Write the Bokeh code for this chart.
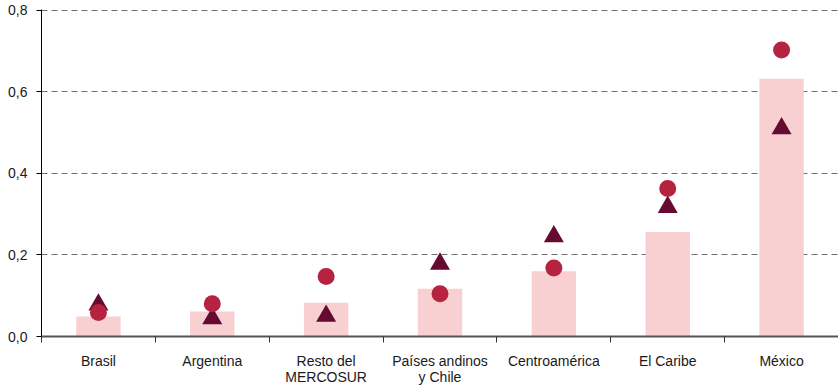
from bokeh.plotting import figure
from bokeh.models import FixedTicker, Range1d, ColumnDataSource
from bokeh.embed import file_html
from bokeh.resources import INLINE

categories = ["Brasil", "Argentina", "Resto del\nMERCOSUR", "Países andinos\ny Chile",
              "Centroamérica", "El Caribe", "México"]
bar_values = [0.049, 0.061, 0.083, 0.117, 0.160, 0.256, 0.632]
circle_values = [0.059, 0.080, 0.147, 0.105, 0.168, 0.363, 0.702]
triangle_values = [0.078, 0.044, 0.050, 0.178, 0.245, 0.317, 0.510]
y_ticks = [0.0, 0.2, 0.4, 0.6, 0.8]
y_tick_labels = ["0,0", "0,2", "0,4", "0,6", "0,8"]

xs = [i + 0.5 for i in range(len(categories))]
src = ColumnDataSource(dict(x=xs, bar=bar_values, c=circle_values, t=triangle_values))

p = figure(width=838, height=387, output_backend="svg", toolbar_location=None,
           x_range=Range1d(0, len(categories)), y_range=Range1d(0, 0.8015),
           min_border_left=41, min_border_right=0, min_border_top=9, min_border_bottom=49)
p.outline_line_color = None
p.background_fill_color = "white"

p.vbar(x="x", top="bar", bottom=0, width=0.39, source=src, fill_color="#F9D0D2", line_color=None)
p.scatter(x="x", y="t", source=src, marker="triangle", size=20, fill_color="#650A30", line_color=None)
p.scatter(x="x", y="c", source=src, marker="circle", size=17, fill_color="#B52341", line_color=None)

FONT = "Liberation Sans"
# x axis
p.xaxis.ticker = FixedTicker(ticks=xs, minor_ticks=list(range(len(categories) + 1)))
p.xaxis.major_label_overrides = {x: c for x, c in zip(xs, categories)}
p.xaxis.major_tick_line_color = None
p.xaxis.minor_tick_in = 0
p.xaxis.minor_tick_out = 6
p.xaxis.minor_tick_line_color = "#333333"
p.xaxis.axis_line_color = "#555555"
p.xaxis.axis_line_width = 2
p.xaxis.major_label_text_font = FONT
p.xaxis.major_label_text_font_size = "14px"
p.xaxis.major_label_text_color = "#1a1a1a"
p.xaxis.major_label_text_line_height = 1.0
p.xaxis.major_label_standoff = 10
p.xgrid.grid_line_color = None

# y axis
p.yaxis.ticker = FixedTicker(ticks=y_ticks)
p.yaxis.major_label_overrides = {t: l for t, l in zip(y_ticks, y_tick_labels)}
p.yaxis.minor_tick_line_color = None
p.yaxis.major_tick_in = 0
p.yaxis.major_tick_out = 5
p.yaxis.major_tick_line_color = "black"
p.yaxis.axis_line_color = "black"
p.yaxis.major_label_text_font = FONT
p.yaxis.major_label_text_font_size = "14px"
p.yaxis.major_label_text_color = "#1a1a1a"
p.yaxis.major_label_standoff = 9
p.ygrid.ticker = FixedTicker(ticks=[0.2, 0.4, 0.6, 0.8])
p.ygrid.grid_line_color = "#707070"
p.ygrid.grid_line_dash = "6 4"
p.ygrid.grid_line_width = 1.2

open("out.html", "w").write(file_html(p, INLINE))
